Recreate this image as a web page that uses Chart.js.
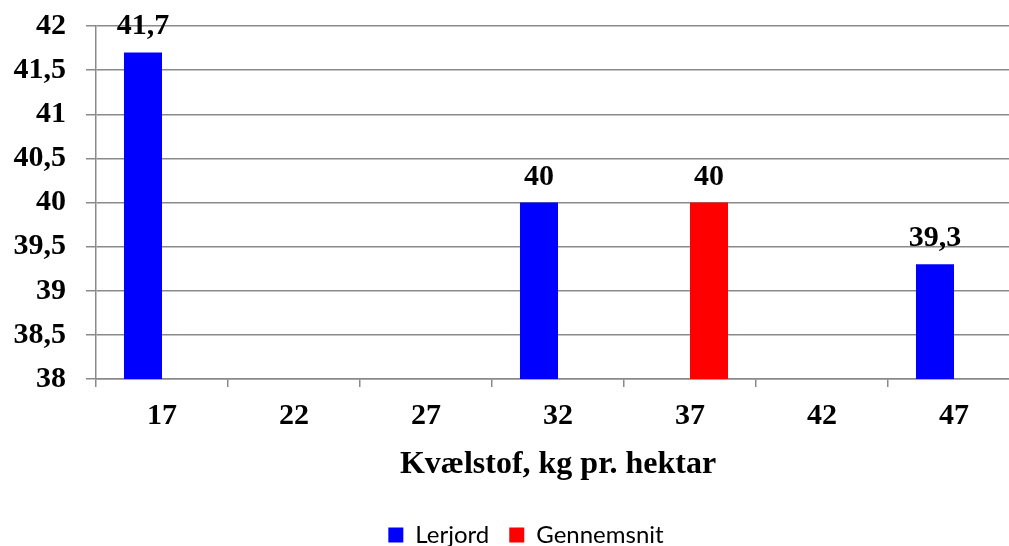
<!DOCTYPE html>
<html>
<head>
<meta charset="utf-8">
<script src="https://cdn.jsdelivr.net/npm/chart.js@4/dist/chart.umd.min.js"></script>
<style>
  html, body { margin: 0; padding: 0; background: #fff; overflow: hidden; }
</style>
</head>
<body>
<canvas id="nChart" width="1052" height="557"></canvas>
<script>
const categories = ["17", "22", "27", "32", "37", "42", "47"];
const lerjord = [41.7, null, null, 40, null, null, 39.3];
const gennemsnit = [null, null, null, null, 40, null, null];
const yTicks = [38, 38.5, 39, 39.5, 40, 40.5, 41, 41.5, 42];

const serif = "'Liberation Serif', 'Times New Roman', serif";
const gridGrey = "#8a8a8a";

// decimal comma
const fmt = (v) => String(v).replace(".", ",");

// value labels above each bar
const barLabels = {
  id: "barLabels",
  afterDatasetsDraw(chart) {
    const ctx = chart.ctx;
    ctx.save();
    ctx.font = "bold 30px " + serif;
    ctx.fillStyle = "#000";
    ctx.textAlign = "center";
    ctx.textBaseline = "alphabetic";
    chart.data.datasets.forEach((ds, i) => {
      chart.getDatasetMeta(i).data.forEach((bar, j) => {
        if (ds.data[j] == null) return;
        ctx.fillText(fmt(ds.data[j]), bar.x, bar.y - 18);
      });
    });
    ctx.restore();
  },
};

new Chart(document.getElementById("nChart").getContext("2d"), {
  type: "bar",
  data: {
    labels: categories,
    datasets: [
      { label: "Lerjord", data: lerjord, backgroundColor: "#0000ff" },
      { label: "Gennemsnit", data: gennemsnit, backgroundColor: "#ff0000" },
    ],
  },
  options: {
    responsive: false,
    animation: false,
    layout: { padding: { top: 26, right: 0, bottom: 0, left: 0 } },
    categoryPercentage: 0.576,
    barPercentage: 1,
    plugins: {
      legend: {
        position: "bottom",
        labels: {
          boxWidth: 15,
          boxHeight: 15,
          padding: 20,
          color: "#000",
          font: { family: "Lato, 'Open Sans', sans-serif", size: 24 },
        },
      },
      tooltip: { enabled: false },
    },
    scales: {
      x: {
        offset: true,
        grid: {
          drawOnChartArea: false,
          color: gridGrey,
          lineWidth: 1.5,
          tickLength: 8,
        },
        border: { color: gridGrey, width: 1.5 },
        ticks: {
          color: "#000",
          padding: 11,
          font: { family: serif, size: 30, weight: "bold" },
        },
        title: {
          display: true,
          text: "Kvælstof, kg pr. hektar",
          color: "#000",
          padding: { top: 0, bottom: 19 },
          font: { family: serif, size: 32, weight: "bold" },
        },
        afterFit(scale) {
          scale.height = 124;
        },
      },
      y: {
        min: 38,
        max: 42,
        afterBuildTicks(scale) {
          scale.ticks = yTicks.map((v) => ({ value: v }));
        },
        grid: {
          color: gridGrey,
          lineWidth: 1.5,
          tickLength: 10,
        },
        border: { color: gridGrey, width: 1.5 },
        ticks: {
          color: "#000",
          padding: 20,
          font: { family: serif, size: 30, weight: "bold" },
          callback: (v) => fmt(v),
        },
        afterFit(scale) {
          scale.width = 96;
          // the top padding is set by layout.padding instead
          scale.paddingTop = 0;
          scale.paddingBottom = 0;
        },
      },
      // empty right-hand margin so the plot ends short of the legend's width
      yRight: {
        position: "right",
        display: true,
        grid: { display: false },
        border: { display: false },
        ticks: { display: false },
        afterFit(scale) {
          scale.width = 32;
          scale.paddingTop = 0;
          scale.paddingBottom = 0;
        },
      },
    },
  },
  plugins: [barLabels],
});
</script>
</body>
</html>
